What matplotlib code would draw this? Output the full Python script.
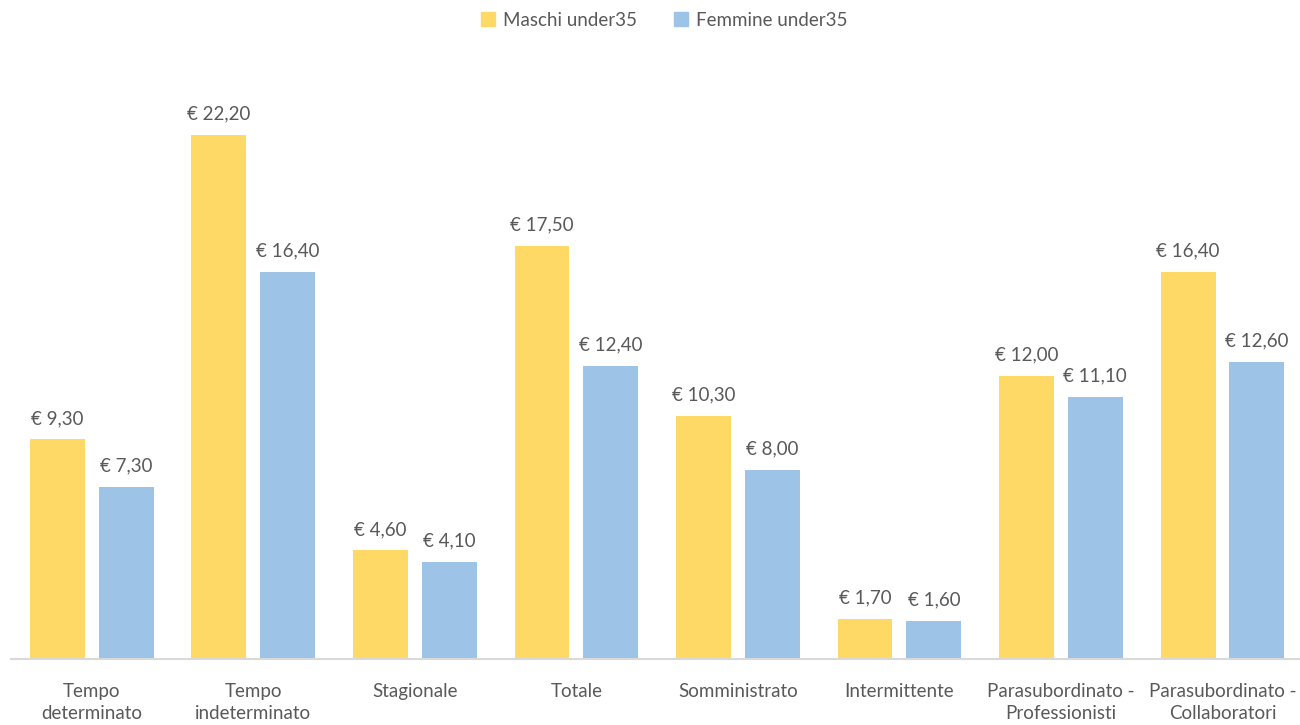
import numpy as np
import matplotlib.pyplot as plt
from matplotlib.patches import Patch

plt.rcParams['font.family'] = ['Lato', 'DejaVu Sans']

categorie = ['Tempo\ndeterminato', 'Tempo\nindeterminato', 'Stagionale', 'Totale',
             'Somministrato', 'Intermittente', 'Parasubordinato -\nProfessionisti',
             'Parasubordinato -\nCollaboratori']
maschi = [9.30, 22.20, 4.60, 17.50, 10.30, 1.70, 12.00, 16.40]
femmine = [7.30, 16.40, 4.10, 12.40, 8.00, 1.60, 11.10, 12.60]

GIALLO = '#FFD966'
AZZURRO = '#9DC3E6'
TESTO = '#595959'
FS = 13.5


def euro(v):
    return '€ ' + f'{v:.2f}'.replace('.', ',')


fig = plt.figure(figsize=(13, 7.25), dpi=100)
ax = fig.add_axes([0.0085, 0.091, 0.994, 0.814])

x = np.arange(len(categorie))
w = 0.34
off = 0.213
b1 = ax.bar(x - off, maschi, w, color=GIALLO)
b2 = ax.bar(x + off, femmine, w, color=AZZURRO)

for bars, vals in ((b1, maschi), (b2, femmine)):
    for b, v in zip(bars, vals):
        ax.annotate(euro(v), (b.get_x() + b.get_width() / 2, v),
                    xytext=(0, 9), textcoords='offset points',
                    ha='center', va='bottom', fontsize=FS, color=TESTO)

ax.set_xlim(-0.5, len(categorie) - 0.5)
ax.set_ylim(0, 25)
ax.set_xticks(x)
ax.set_xticklabels(categorie, fontsize=FS, color=TESTO, linespacing=1.4)
ax.tick_params(axis='x', length=0, pad=17)
ax.set_yticks([])
for s in ('top', 'right', 'left'):
    ax.spines[s].set_visible(False)
ax.spines['bottom'].set_color('#D9D9D9')
ax.spines['bottom'].set_linewidth(1.5)

handles = [Patch(color=GIALLO, label='Maschi under35'),
           Patch(color=AZZURRO, label='Femmine under35')]
fig.legend(handles=handles, loc='center', bbox_to_anchor=(0.511, 0.972), ncol=2,
           frameon=False, fontsize=FS, labelcolor=TESTO,
           handlelength=0.75, handleheight=0.75, handletextpad=0.4, columnspacing=2.0)

fig.savefig('out.png', dpi=100)
